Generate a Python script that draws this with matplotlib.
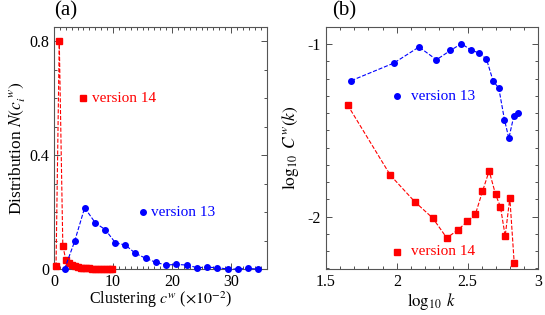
import numpy as np
import matplotlib.pyplot as plt
from matplotlib.ticker import MultipleLocator

plt.rcParams['font.family'] = ['Liberation Serif', 'DejaVu Serif']
plt.rcParams['mathtext.fontset'] = 'stix'
plt.rcParams['axes.unicode_minus'] = False

# (a) clustering distribution
a13_x = [1.8, 3.5, 5.2, 7.0, 8.7, 10.4, 12.1, 13.8, 15.6, 17.3, 19.0, 20.7,
         22.5, 24.2, 25.9, 27.6, 29.4, 31.1, 32.8, 34.5]
a13_y = [0.0, 0.097, 0.215, 0.162, 0.138, 0.092, 0.084, 0.055, 0.037, 0.023,
         0.014, 0.016, 0.014, 0.005, 0.006, 0.005, 0.0, 0.0, 0.002, 0.0]
a14_x = [0.35, 0.9, 1.5, 2.0, 2.5, 3.0, 3.5, 4.0, 4.5, 5.0, 5.5, 6.0, 6.5,
         7.0, 7.5, 8.0, 8.5, 9.0, 9.5, 9.9]
a14_y = [0.009, 0.8, 0.082, 0.033, 0.022, 0.014, 0.009, 0.006, 0.004, 0.003,
         0.002, 0.002, 0.001, 0.001, 0.001, 0.001, 0.0, 0.0, 0.0, 0.0]

# (b) log10 C^w(k) vs log10 k
b13_x = [1.679, 1.98, 2.157, 2.28, 2.379, 2.456, 2.525, 2.581, 2.633, 2.68,
         2.72, 2.76, 2.791, 2.826, 2.855]
b13_y = [-1.212, -1.11, -1.017, -1.091, -1.037, -0.998, -1.035, -1.052,
         -1.087, -1.214, -1.255, -1.438, -1.546, -1.417, -1.401]
b14_x = [1.653, 1.955, 2.129, 2.254, 2.353, 2.431, 2.499, 2.555, 2.605,
         2.652, 2.697, 2.732, 2.765, 2.798, 2.829]
b14_y = [-1.353, -1.76, -1.915, -2.008, -2.123, -2.077, -2.027, -1.986,
         -1.853, -1.735, -1.87, -1.944, -2.112, -1.892, -2.27]

red = '#ff0000'
blue = '#0000ff'
fs = 11.5
lfs = 11

fig = plt.figure(figsize=(5.45, 3.15), dpi=100)
ax1 = fig.add_axes([0.099, 0.146, 0.390, 0.769])
ax2 = fig.add_axes([0.598, 0.146, 0.390, 0.769])

for ax in (ax1, ax2):
    ax.tick_params(which='both', direction='in', top=True, right=True,
                   labelsize=fs, colors='#333333', labelcolor='black')
    ax.tick_params(which='major', length=4, width=0.6)
    ax.tick_params(which='minor', length=2, width=0.6)
    for s in ax.spines.values():
        s.set_color('#555555')
        s.set_linewidth(0.8)

# panel (a)
ax1.plot(a14_x, a14_y, '--', color=red, lw=0.8, marker='s', ms=4,
         clip_on=False, zorder=3)
ax1.plot(a13_x, a13_y, '--', color=blue, lw=0.8, marker='o', ms=4,
         clip_on=False, zorder=3)
ax1.plot([5.0], [0.6], 's', color=red, ms=4)
ax1.text(6.4, 0.6, 'version 14', color=red, fontsize=lfs, va='center')
ax1.plot([15.0], [0.2], 'o', color=blue, ms=4)
ax1.text(16.4, 0.2, 'version 13', color=blue, fontsize=lfs, va='center')
ax1.set_xlim(0, 36)
ax1.set_ylim(0, 0.85)
ax1.set_xticks([0, 10, 20, 30])
ax1.set_yticks([0, 0.4, 0.8])
ax1.set_yticklabels(['0', '0.4', '0.8'])
ax1.xaxis.set_minor_locator(MultipleLocator(1))
ax1.yaxis.set_minor_locator(MultipleLocator(0.1))
ax1.set_xlabel(r'Clustering $c^w$ ($\times 10^{-2}$)', fontsize=11.5, labelpad=0)
ax1.set_ylabel(r'Distribution $N(c_i^{\ w})$', fontsize=12.5, labelpad=1)
ax1.text(0.0, 1.025, '(a)', transform=ax1.transAxes, fontsize=15,
         va='bottom', ha='left')

# panel (b)
ax2.plot(b13_x, b13_y, '--', color=blue, lw=0.8, marker='o', ms=4)
ax2.plot(b14_x, b14_y, '--', color=red, lw=0.8, marker='s', ms=4)
ax2.plot([2.0], [-1.303], 'o', color=blue, ms=4)
ax2.text(2.1, -1.303, 'version 13', color=blue, fontsize=lfs, va='center')
ax2.plot([2.0], [-2.203], 's', color=red, ms=4)
ax2.text(2.1, -2.203, 'version 14', color=red, fontsize=lfs, va='center')
ax2.set_xlim(1.5, 3.0)
ax2.set_ylim(-2.303, -0.9)
ax2.set_xticks([1.5, 2, 2.5, 3])
ax2.set_xticklabels(['1.5', '2', '2.5', '3'])
ax2.set_yticks([-2, -1])
ax2.set_yticklabels(['-2', '-1'])
ax2.xaxis.set_minor_locator(MultipleLocator(0.1))
ax2.yaxis.set_minor_locator(MultipleLocator(0.1))
ax2.set_xlabel(r'$\log_{10}\ k$', fontsize=12, labelpad=1)
ax2.set_ylabel(r'$\log_{10}\ C^w(k)$', fontsize=12.5, labelpad=5)
ax2.text(0.03, 1.025, '(b)', transform=ax2.transAxes, fontsize=15,
         va='bottom', ha='left')

fig.savefig('out.png', dpi=100)
